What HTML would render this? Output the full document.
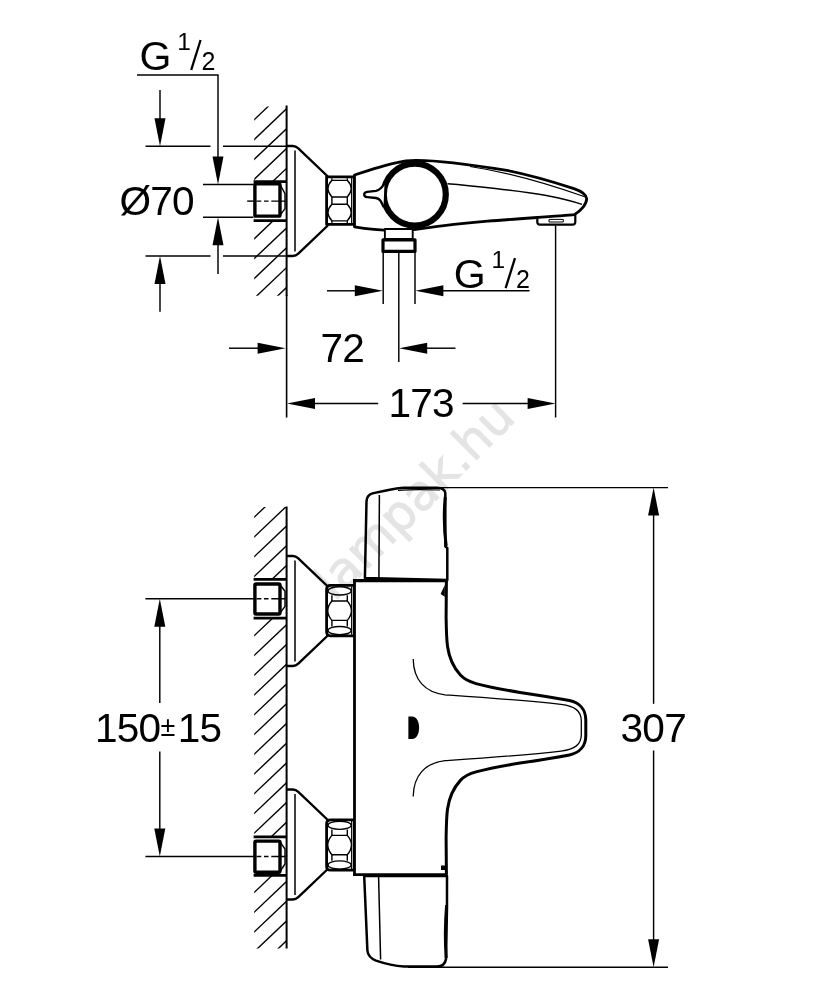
<!DOCTYPE html>
<html lang="en"><head><meta charset="utf-8"><title>Dimension drawing</title>
<style>
html,body{margin:0;padding:0;background:#fff}
body{width:834px;height:1000px;overflow:hidden}
svg{display:block}
.f{fill:#000;stroke:none}
.t{font-family:"Liberation Sans",sans-serif;fill:#000;stroke:none}
.wm{font-family:"DejaVu Sans","Liberation Sans",sans-serif;fill:#e4e4e4;stroke:#e4e4e4;stroke-width:0.9;mix-blend-mode:multiply}
</style></head><body>
<svg width="834" height="1000" viewBox="0 0 834 1000">
<rect x="0" y="0" width="834" height="1000" fill="#fff" stroke="none"/>
<g stroke="#000" fill="none" stroke-linecap="butt" stroke-linejoin="round">
<text class="t" x="139.4" y="69.9" font-size="41">G</text>
<text class="t" x="177.2" y="50.10000000000001" font-size="24.5">1</text>
<line x1="191.2" y1="70.0" x2="200.6" y2="40.00000000000001" stroke-width="2.3"/>
<text class="t" x="201.6" y="70.10000000000001" font-size="25">2</text>
<line x1="137.00" y1="75.00" x2="218.60" y2="75.00" stroke-width="1.45" />
<line x1="218.00" y1="75.00" x2="218.00" y2="160.00" stroke-width="1.45" />
<polygon class="f" points="218.00,184.40 212.50,156.40 223.50,156.40"/>
<line x1="160.00" y1="90.00" x2="160.00" y2="120.00" stroke-width="1.45" />
<polygon class="f" points="160.00,146.30 154.50,118.30 165.50,118.30"/>
<line x1="145.50" y1="146.30" x2="210.50" y2="146.30" stroke-width="1.45" />
<line x1="223.00" y1="146.30" x2="287.00" y2="146.30" stroke-width="1.45" />
<text class="t" x="119.5" y="215.2" font-size="40.6" letter-spacing="-0.8">Ø70</text>
<line x1="203.00" y1="184.40" x2="253.50" y2="184.40" stroke-width="1.45" />
<line x1="247.20" y1="201.10" x2="256.00" y2="201.10" stroke-width="1.4" />
<line x1="203.00" y1="217.20" x2="253.50" y2="217.20" stroke-width="1.45" />
<polygon class="f" points="218.00,217.20 223.50,245.20 212.50,245.20"/>
<line x1="218.00" y1="240.00" x2="218.00" y2="274.00" stroke-width="1.45" />
<line x1="145.50" y1="256.00" x2="210.50" y2="256.00" stroke-width="1.45" />
<line x1="223.00" y1="256.00" x2="287.00" y2="256.00" stroke-width="1.45" />
<polygon class="f" points="160.00,256.00 165.50,284.00 154.50,284.00"/>
<line x1="160.00" y1="280.00" x2="160.00" y2="311.80" stroke-width="1.45" />
<clipPath id="c106"><rect x="254.2" y="106.5" width="31.80000000000001" height="189.2"/></clipPath>
<g clip-path="url(#c106)">
<line x1="251.20" y1="122.55" x2="287.00" y2="88.54" stroke-width="1.4" />
<line x1="251.20" y1="142.40" x2="287.00" y2="108.39" stroke-width="1.4" />
<line x1="251.20" y1="162.25" x2="287.00" y2="128.24" stroke-width="1.4" />
<line x1="251.20" y1="182.10" x2="287.00" y2="148.09" stroke-width="1.4" />
<line x1="251.20" y1="201.95" x2="287.00" y2="167.94" stroke-width="1.4" />
<line x1="251.20" y1="221.80" x2="287.00" y2="187.79" stroke-width="1.4" />
<line x1="251.20" y1="241.65" x2="287.00" y2="207.64" stroke-width="1.4" />
<line x1="251.20" y1="261.50" x2="287.00" y2="227.49" stroke-width="1.4" />
<line x1="251.20" y1="281.35" x2="287.00" y2="247.34" stroke-width="1.4" />
<line x1="251.20" y1="301.20" x2="287.00" y2="267.19" stroke-width="1.4" />
<line x1="251.20" y1="321.05" x2="287.00" y2="287.04" stroke-width="1.4" />
<rect x="250" y="181.6" width="38" height="39.1" fill="#fff" stroke="none"/>
</g>
<path d="M286.5,181.6 H253.6 M253.6,220.7 H286.5" stroke-width="2.7" fill="none"/>
<path d="M280,184.5 L285,193.6 V208.6 L280,215.3" stroke-width="1.4" fill="#fff"/>
<rect x="254.9" y="183.7" width="25.1" height="32.40000000000001" rx="1.2" stroke-width="3.4" fill="#fff"/>
<path d="M256.5,201.1 H261.3 M264,201.1 H268.5 M271.3,201.1 H285.5" stroke-width="1.4" fill="none"/>
<path d="M286.3,146 H292.8 Q295.8,146 298.3,148.3 L327.3,176 V226 L298.3,253.7 Q295.8,256 292.8,256 H286.3" stroke-width="2.4" fill="#fff"/>
<line x1="295.0" y1="150.5" x2="295.0" y2="251.5" stroke-width="1.5"/>
<rect x="326.6" y="176.85" width="27.599999999999966" height="47.6" stroke-width="2.8" fill="#fff"/>
<path d="M331.90000000000003,180.35 H347.3 Q355.1,188.65 347.3,196.95000000000002 H331.90000000000003 Q324.1,188.65 331.90000000000003,180.35 Z" stroke-width="1.4" fill="none"/>
<path d="M331.90000000000003,204.25 H347.3 Q355.1,212.55 347.3,220.85000000000002 H331.90000000000003 Q324.1,212.55 331.90000000000003,204.25 Z" stroke-width="1.4" fill="none"/>
<path d="M331.90000000000003,197.05 V204.25 M347.3,197.05 V204.25" stroke-width="1.4" fill="none"/>
<path d="M331.90000000000003,178.35 V180.35 M347.3,178.35 V180.35 M331.90000000000003,222.95000000000002 V220.95000000000002 M347.3,222.95000000000002 V220.95000000000002" stroke-width="1.3" fill="none"/>
<line x1="351.60" y1="177.85" x2="351.60" y2="223.45" stroke-width="1.1" />
<path d="M537.3,216.5 V222 Q537.3,224.6 540,224.6 H572.5 Q575.3,224.6 575.3,222 V214.6" stroke-width="2.2" fill="#fff"/>
<rect x="549" y="219.4" width="14.3" height="2.6" stroke-width="1" fill="#fff"/>
<path d="M354.5,175 C368,170.5 384,165.2 397,162.6 C403,161 409,160.4 416,160.4 C440,160.2 470,164.5 506.7,170.4 C530,175 555,182.5 573.9,188.6 C581,191 586,194 586.6,198.5 C587,204 581,210.5 574.5,214.6 C560,216 520,218.6 487.6,221.2 C465,223 440,226 414,229.6 C395,230.8 372,230 354.5,226.8 Z" stroke-width="2.8" fill="#fff"/>
<path d="M447.5,183.7 C470,185.5 520,191 545,195.2 C560,198 572,201 582,204.3" stroke-width="1.4" fill="none"/>
<path d="M470,166.5 C500,171 540,181 584,196.5" stroke-width="1.2" fill="none"/>
<circle cx="414.8" cy="194.6" r="31" stroke-width="6.2" fill="#fff"/>
<path d="M384.5,183 C382,188 380,190 376,190.8 L367.2,191.8 C363.2,192.2 363.2,196.8 367.2,197.1 L376,198 C380,198.8 381,201 383.5,207" stroke-width="2.3" fill="#fff"/>
<rect x="384.9" y="229" width="27.8" height="10" stroke-width="1.9" fill="#fff"/>
<rect x="383" y="239.8" width="32" height="11.6" stroke-width="3.2" fill="#fff"/>
<line x1="383.20" y1="252.00" x2="383.20" y2="304.00" stroke-width="1.45" />
<line x1="415.00" y1="252.00" x2="415.00" y2="304.00" stroke-width="1.45" />
<line x1="398.80" y1="253.00" x2="398.80" y2="362.00" stroke-width="1.45" />
<line x1="327.00" y1="290.80" x2="356.00" y2="290.80" stroke-width="1.45" />
<polygon class="f" points="382.80,290.80 354.80,296.30 354.80,285.30"/>
<polygon class="f" points="415.40,290.80 443.40,285.30 443.40,296.30"/>
<line x1="440.00" y1="290.80" x2="529.50" y2="290.80" stroke-width="1.45" />
<text class="t" x="453.8" y="288.1" font-size="41">G</text>
<text class="t" x="491.6" y="268.3" font-size="24.5">1</text>
<line x1="505.6" y1="288.20000000000005" x2="515" y2="258.20000000000005" stroke-width="2.3"/>
<text class="t" x="516" y="288.3" font-size="25">2</text>
<text class="t" x="320.5" y="362.2" font-size="40.6" letter-spacing="-0.8">72</text>
<line x1="229.00" y1="348.20" x2="258.00" y2="348.20" stroke-width="1.45" />
<polygon class="f" points="285.60,348.20 257.60,353.70 257.60,342.70"/>
<polygon class="f" points="399.20,348.20 427.20,342.70 427.20,353.70"/>
<line x1="426.00" y1="348.20" x2="455.50" y2="348.20" stroke-width="1.45" />
<text class="t" x="388.4" y="416.9" font-size="40.6" letter-spacing="-0.8">173</text>
<polygon class="f" points="287.00,403.40 315.00,397.90 315.00,408.90"/>
<line x1="314.00" y1="403.40" x2="378.20" y2="403.40" stroke-width="1.45" />
<line x1="462.60" y1="403.40" x2="528.00" y2="403.40" stroke-width="1.45" />
<polygon class="f" points="555.60,403.40 527.60,408.90 527.60,397.90"/>
<line x1="555.60" y1="225.50" x2="555.60" y2="417.50" stroke-width="1.45" />
<clipPath id="c507"><rect x="254.2" y="507" width="31.80000000000001" height="441.6"/></clipPath>
<g clip-path="url(#c507)">
<line x1="251.20" y1="520.05" x2="287.00" y2="486.04" stroke-width="1.4" />
<line x1="251.20" y1="539.80" x2="287.00" y2="505.79" stroke-width="1.4" />
<line x1="251.20" y1="559.55" x2="287.00" y2="525.54" stroke-width="1.4" />
<line x1="251.20" y1="579.30" x2="287.00" y2="545.29" stroke-width="1.4" />
<line x1="251.20" y1="599.05" x2="287.00" y2="565.04" stroke-width="1.4" />
<line x1="251.20" y1="618.80" x2="287.00" y2="584.79" stroke-width="1.4" />
<line x1="251.20" y1="638.55" x2="287.00" y2="604.54" stroke-width="1.4" />
<line x1="251.20" y1="658.30" x2="287.00" y2="624.29" stroke-width="1.4" />
<line x1="251.20" y1="678.05" x2="287.00" y2="644.04" stroke-width="1.4" />
<line x1="251.20" y1="697.80" x2="287.00" y2="663.79" stroke-width="1.4" />
<line x1="251.20" y1="717.55" x2="287.00" y2="683.54" stroke-width="1.4" />
<line x1="251.20" y1="737.30" x2="287.00" y2="703.29" stroke-width="1.4" />
<line x1="251.20" y1="757.05" x2="287.00" y2="723.04" stroke-width="1.4" />
<line x1="251.20" y1="776.80" x2="287.00" y2="742.79" stroke-width="1.4" />
<line x1="251.20" y1="796.55" x2="287.00" y2="762.54" stroke-width="1.4" />
<line x1="251.20" y1="816.30" x2="287.00" y2="782.29" stroke-width="1.4" />
<line x1="251.20" y1="836.05" x2="287.00" y2="802.04" stroke-width="1.4" />
<line x1="251.20" y1="855.80" x2="287.00" y2="821.79" stroke-width="1.4" />
<line x1="251.20" y1="875.55" x2="287.00" y2="841.54" stroke-width="1.4" />
<line x1="251.20" y1="895.30" x2="287.00" y2="861.29" stroke-width="1.4" />
<line x1="251.20" y1="915.05" x2="287.00" y2="881.04" stroke-width="1.4" />
<line x1="251.20" y1="934.80" x2="287.00" y2="900.79" stroke-width="1.4" />
<line x1="251.20" y1="954.55" x2="287.00" y2="920.54" stroke-width="1.4" />
<line x1="251.20" y1="974.30" x2="287.00" y2="940.29" stroke-width="1.4" />
<rect x="250" y="579.4" width="38" height="38.8" fill="#fff" stroke="none"/>
<rect x="250" y="836.9" width="38" height="38.5" fill="#fff" stroke="none"/>
</g>
<path d="M286.5,579.4 H253.6 M253.6,618.2 H286.5" stroke-width="2.7" fill="none"/>
<path d="M280,584.8 L285,591.3 V606.3 L280,613.2" stroke-width="1.4" fill="#fff"/>
<rect x="254.9" y="584.0" width="25.1" height="30.000000000000092" rx="1.2" stroke-width="3.4" fill="#fff"/>
<path d="M256.5,598.8 H261.3 M264,598.8 H268.5 M271.3,598.8 H285.5" stroke-width="1.4" fill="none"/>
<path d="M286.5,836.9 H253.6 M253.6,875.4 H286.5" stroke-width="2.7" fill="none"/>
<path d="M280,841.9 L285,849.0 V864.0 L280,871.5" stroke-width="1.4" fill="#fff"/>
<rect x="254.9" y="841.1" width="25.1" height="31.200000000000024" rx="1.2" stroke-width="3.4" fill="#fff"/>
<path d="M256.5,856.5 H261.3 M264,856.5 H268.5 M271.3,856.5 H285.5" stroke-width="1.4" fill="none"/>
<path d="M286.3,556 H292.8 Q295.8,556 298.3,558.3 L327.3,586 V636 L298.3,663.7 Q295.8,666 292.8,666 H286.3" stroke-width="2.4" fill="#fff"/>
<line x1="295.0" y1="560.5" x2="295.0" y2="661.5" stroke-width="1.5"/>
<path d="M286.3,789.5 H292.8 Q295.8,789.5 298.3,791.8 L327.3,819.5 V869.5 L298.3,897.2 Q295.8,899.5 292.8,899.5 H286.3" stroke-width="2.4" fill="#fff"/>
<line x1="295.0" y1="794.0" x2="295.0" y2="895.0" stroke-width="1.5"/>
<path d="M330.6,585.4 H354.2 V635.8000000000001 H330.6 Q326.6,635.8000000000001 326.6,631.8000000000001 V589.4 Q326.6,585.4 330.6,585.4 Z" stroke-width="2.8" fill="#fff"/>
<ellipse cx="339.6" cy="590.9" rx="11.6" ry="4.1" stroke-width="1.4" fill="none"/>
<ellipse cx="339.6" cy="630.6" rx="11.6" ry="4.1" stroke-width="1.4" fill="none"/>
<path d="M331.90000000000003,601.0 H347.3 Q355.6,610.6 347.3,620.4 H331.90000000000003 Q323.6,610.6 331.90000000000003,601.0 Z" stroke-width="1.4" fill="none"/>
<path d="M331.90000000000003,595.2 V601.0 M347.3,595.2 V601.0 M331.90000000000003,620.4 V626.4 M347.3,620.4 V626.4" stroke-width="1.4" fill="none"/>
<line x1="351.60" y1="586.40" x2="351.60" y2="634.80" stroke-width="1.1" />
<path d="M330.6,819.8 H354.2 V870.2 H330.6 Q326.6,870.2 326.6,866.2 V823.8 Q326.6,819.8 330.6,819.8 Z" stroke-width="2.8" fill="#fff"/>
<ellipse cx="339.6" cy="825.3" rx="11.6" ry="4.1" stroke-width="1.4" fill="none"/>
<ellipse cx="339.6" cy="865" rx="11.6" ry="4.1" stroke-width="1.4" fill="none"/>
<path d="M331.90000000000003,835.4 H347.3 Q355.6,845 347.3,854.8 H331.90000000000003 Q323.6,845 331.90000000000003,835.4 Z" stroke-width="1.4" fill="none"/>
<path d="M331.90000000000003,829.6 V835.4 M347.3,829.6 V835.4 M331.90000000000003,854.8 V860.8 M347.3,854.8 V860.8" stroke-width="1.4" fill="none"/>
<line x1="351.60" y1="820.80" x2="351.60" y2="869.20" stroke-width="1.1" />
<path d="M364.9,578 L366.5,501.5 Q366.7,495 372.5,493.4 C384,490.6 394,488.2 404,487.7 H437 Q444.8,487.9 445.3,493 L445.4,546.5 L447.3,548 V580 Z" stroke-width="2.5" fill="#fff"/>
<path d="M445.2,497 C443.6,515 444,530 446.2,546" stroke-width="3" fill="none"/>
<path d="M398,490.3 C410,489.4 425,489.4 440,490" stroke-width="1.2" fill="none"/>
<line x1="379.40" y1="495.00" x2="378.90" y2="578.00" stroke-width="1.5" />
<path d="M364.2,876 L367.4,950.5 Q368,957.5 376,960.6 C386,964 396,966 404,966.5 H437 Q445,966.3 446,959 L447,907 V876 Z" stroke-width="2.5" fill="#fff"/>
<path d="M446.6,905 C445,925 445.2,945 446.2,958" stroke-width="3" fill="none"/>
<line x1="378.60" y1="877.00" x2="380.60" y2="959.50" stroke-width="1.5" />
<path d="M354.5,580.3 H447.3 V874.5 H354.5 Z" stroke="none" fill="#fff"/>
<line x1="354.50" y1="579.00" x2="354.50" y2="876.00" stroke-width="2.8" />
<line x1="353.30" y1="580.60" x2="447.60" y2="580.60" stroke-width="3.4" />
<line x1="353.30" y1="874.60" x2="447.60" y2="874.60" stroke-width="2.6" />
<path d="M446.4,581 L446.1,617.6 C446.3,630 446.6,640 447.5,646.3 C449,657 453,667 460.4,675.1 C465,680 470,682 476,683.6 C490,687.3 505,690 520,692.4 C540,695.3 556,698 569.4,700.5 C579,702.5 585.8,709 585.8,720 L585.8,735.50 C585.8,746.50 579,753.00 569.4,755.00 C556,757.50 540,760.20 520,763.10 C505,765.50 490,768.20 476,771.90 C470,773.50 465,775.50 460.4,780.40 C453,788.50 449,798.50 447.5,809.20 C446.6,815.50 446.3,825.50 446.1,837.90 L446.4,874.50 " stroke-width="3" fill="#fff"/>
<path d="M413.2,659 C413.5,680 425,692.5 445,694.8 C480,697.2 525,700.2 561,704.4 C575,706.2 581.3,711 581.3,721 L581.3,734.50 C581.3,744.50 575,749.30 561,751.10 C525,755.30 480,758.30 445,760.70 C425,763.00 413.5,775.50 413.2,796.50 " stroke-width="1.3" fill="none"/>
<path class="f" d="M408.4,716.5 H412 C421.5,716.5 421.5,739 412,739 H408.4 Z"/>
<path class="f" d="M444.8,585 L440.6,594 L444.8,596.8 Z"/>
<rect class="f" x="441" y="865.5" width="4" height="4.5"/>
<line x1="436.00" y1="487.60" x2="668.00" y2="487.60" stroke-width="1.45" />
<line x1="408.00" y1="967.30" x2="668.00" y2="967.30" stroke-width="1.45" />
<polygon class="f" points="653.60,487.60 659.10,515.60 648.10,515.60"/>
<polygon class="f" points="653.60,967.30 648.10,939.30 659.10,939.30"/>
<line x1="653.60" y1="514.00" x2="653.60" y2="703.80" stroke-width="1.45" />
<line x1="653.60" y1="750.50" x2="653.60" y2="942.00" stroke-width="1.45" />
<text class="t" x="620.6" y="742.2" font-size="40.6" letter-spacing="-0.8">307</text>
<line x1="145.40" y1="598.80" x2="256.00" y2="598.80" stroke-width="1.45" />
<line x1="145.40" y1="856.50" x2="256.00" y2="856.50" stroke-width="1.45" />
<polygon class="f" points="159.80,598.80 165.30,626.80 154.30,626.80"/>
<polygon class="f" points="159.80,856.50 154.30,828.50 165.30,828.50"/>
<line x1="159.80" y1="626.00" x2="159.80" y2="703.00" stroke-width="1.45" />
<line x1="159.80" y1="751.60" x2="159.80" y2="830.00" stroke-width="1.45" />
<text class="t" x="94.9" y="742.2" font-size="40.6" letter-spacing="-0.8">150</text>
<text class="t" x="160.4" y="736" font-size="27">±</text>
<text class="t" x="177.7" y="742.2" font-size="40.6" letter-spacing="-0.8">15</text>
<line x1="286.60" y1="105.50" x2="286.60" y2="296.00" stroke-width="2" />
<line x1="286.60" y1="295.00" x2="286.60" y2="417.50" stroke-width="1.6" />
<line x1="286.60" y1="506.50" x2="286.60" y2="948.60" stroke-width="2" />
</g>
<text class="wm" transform="translate(334.5,602) rotate(-45)" font-size="49">lampak.hu</text>
</svg>
</body></html>
